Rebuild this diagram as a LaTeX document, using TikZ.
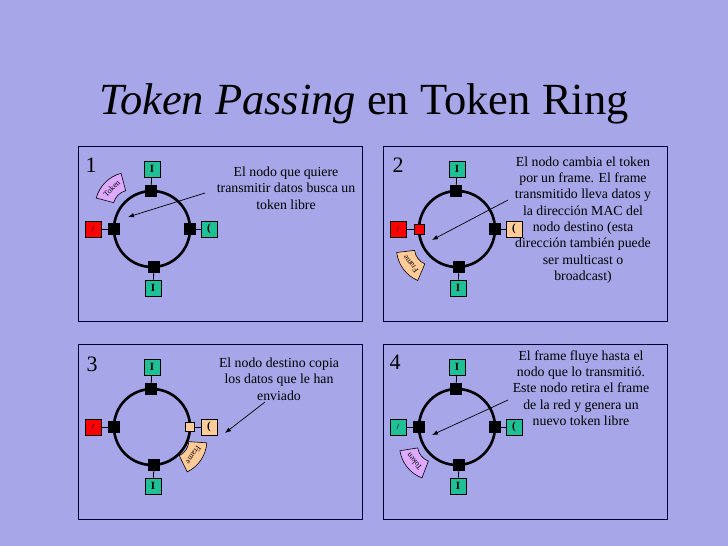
\documentclass[tikz,border=0pt]{standalone}
\usepackage{fontspec}
\setmainfont{Liberation Serif}
\usetikzlibrary{arrows.meta}
\definecolor{slidebg}{RGB}{166,166,232}
\definecolor{nodegreen}{RGB}{32,192,150}
\definecolor{framepeach}{RGB}{255,204,153}
\definecolor{tokenlilac}{RGB}{221,170,255}
\tikzset{
  panel/.style={draw=black!80!blue, line width=0.9pt},
  ring/.style={line width=2.6pt},
  att/.style={draw=black, fill=black, minimum size=11pt, inner sep=0pt},
  term/.style={draw=black, line width=0.7pt, minimum size=16pt, inner sep=0pt, font=\bfseries\fontsize{11}{11}\selectfont},
  link/.style={line width=0.8pt},
  pointer/.style={line width=0.7pt, -{Latex[length=6pt,width=4.5pt]}},
  says/.style={align=center, font=\fontsize{13.8}{16.3}\selectfont},
  stepnum/.style={font=\fontsize{22}{22}\selectfont},
}
% one panel: frame, ring, four stations
\newcommand{\ringpanel}[5]{% #1 prefix, #2 left box, #3 right box, #4 left attach, #5 right attach
  \draw[panel] (0,0) rectangle (284,175);
  \coordinate (#1c) at (74,83);
  \draw[ring] (#1c) circle (38pt);
  \node[term,fill=nodegreen] (#1N) at (74,23) {I};
  \node[term,fill=nodegreen] (#1S) at (75,142) {I};
  \node[term,fill=#2] (#1W) at (15,83) {\raisebox{-3pt}{\fontsize{8}{8}\selectfont /}};
  \node[term,fill=#3] (#1E) at (131,83) {(};
  \node[att] (#1n) at (73,45) {};
  \node[att] (#1s) at (76,121) {};
  \node[#4] (#1w) at (36,83) {};
  \node[#5] (#1e) at (112,83) {};
  \draw[link] (#1N) -- (#1n);
  \draw[link] (#1S) -- (#1s);
  \draw[link] (#1W) -- (#1w);
  \draw[link] (#1E) -- (#1e);
}
% token / frame tab beside the ring
\newcommand{\tabsector}[5]{% #1 ring centre, #2 angle, #3 distance, #4 colour, #5 label
  \path (#1) ++(#2:#3pt) coordinate (tabmid) ++(#2+180:26pt) coordinate (tabc);
  \draw[fill=#4, line width=0.6pt] (tabc) ++(#2-30:17pt)
    arc[start angle=#2-30, end angle=#2+30, radius=17pt] -- ++(#2+30:18pt)
    arc[start angle=#2+30, end angle=#2-30, radius=35pt] -- cycle;
  \node[rotate=#2-90, font=\fontsize{8}{8}\selectfont, inner sep=0pt] at (tabmid) {#5};
}
\begin{document}
\begin{tikzpicture}[x=1pt,y=-1pt]
  \fill[slidebg] (0,0) rectangle (728,546);
  \useasboundingbox (0,0) rectangle (728,546);
  \node[font=\fontsize{44.5}{44.5}\selectfont, anchor=base] (title) at (364,114) {\textit{Token Passing} en Token Ring};

  % 1
  \begin{scope}[shift={(78,146)}]
    \ringpanel{a}{red}{nodegreen}{att}{att}
    \tabsector{ac}{135}{57}{tokenlilac}{Token}
    \node[stepnum] (anum) at (13,19) {1};
    \node[says] (atext) at (208,42) {El nodo que quiere\\transmitir datos busca un\\token libre};
    \coordinate (afrom) at (127,47);
    \coordinate (ato) at (50,71);
    \draw[pointer] (afrom) -- (ato);
  \end{scope}

  % 2
  \begin{scope}[shift={(383,146)}]
    \ringpanel{b}{red}{framepeach}{att,fill=red,minimum size=10pt}{att}
    \tabsector{bc}{217}{58}{framepeach}{Frame}
    \node[stepnum] (bnum) at (15,19) {2};
    \node[says] (btext) at (200,74) {El nodo cambia el token\\por un frame. El frame\\transmitido lleva datos y\\la dirección MAC del\\nodo destino (esta\\dirección también puede\\ser multicast o\\broadcast)};
    \coordinate (bfrom) at (125,54);
    \coordinate (bto) at (49,94);
    \draw[pointer] (bfrom) -- (bto);
  \end{scope}

  % 3
  \begin{scope}[shift={(78,344)}]
    \ringpanel{c}{red}{framepeach}{att}{att,fill=framepeach,minimum size=9pt}
    \tabsector{cc}{-34}{50}{framepeach}{Frame}
    \node[stepnum] (cnum) at (14,20) {3};
    \node[says] (ctext) at (201,35) {El nodo destino copia\\los datos que le han\\enviado};
    \coordinate (cfrom) at (187,58);
    \coordinate (cto) at (147,89);
    \draw[pointer] (cfrom) -- (cto);
  \end{scope}

  % 4
  \begin{scope}[shift={(383,344)}]
    \ringpanel{d}{nodegreen}{nodegreen}{att}{att}
    \tabsector{dc}{219}{55}{tokenlilac}{Token}
    \node[stepnum] (dnum) at (12,18) {4};
    \node[says] (dtext) at (198,44) {El frame fluye hasta el\\nodo que lo transmitió.\\Este nodo retira el frame\\de la red y genera un\\nuevo token libre};
    \coordinate (dfrom) at (125,56);
    \coordinate (dto) at (49,91);
    \draw[pointer] (dfrom) -- (dto);
  \end{scope}
\end{tikzpicture}
\end{document}
